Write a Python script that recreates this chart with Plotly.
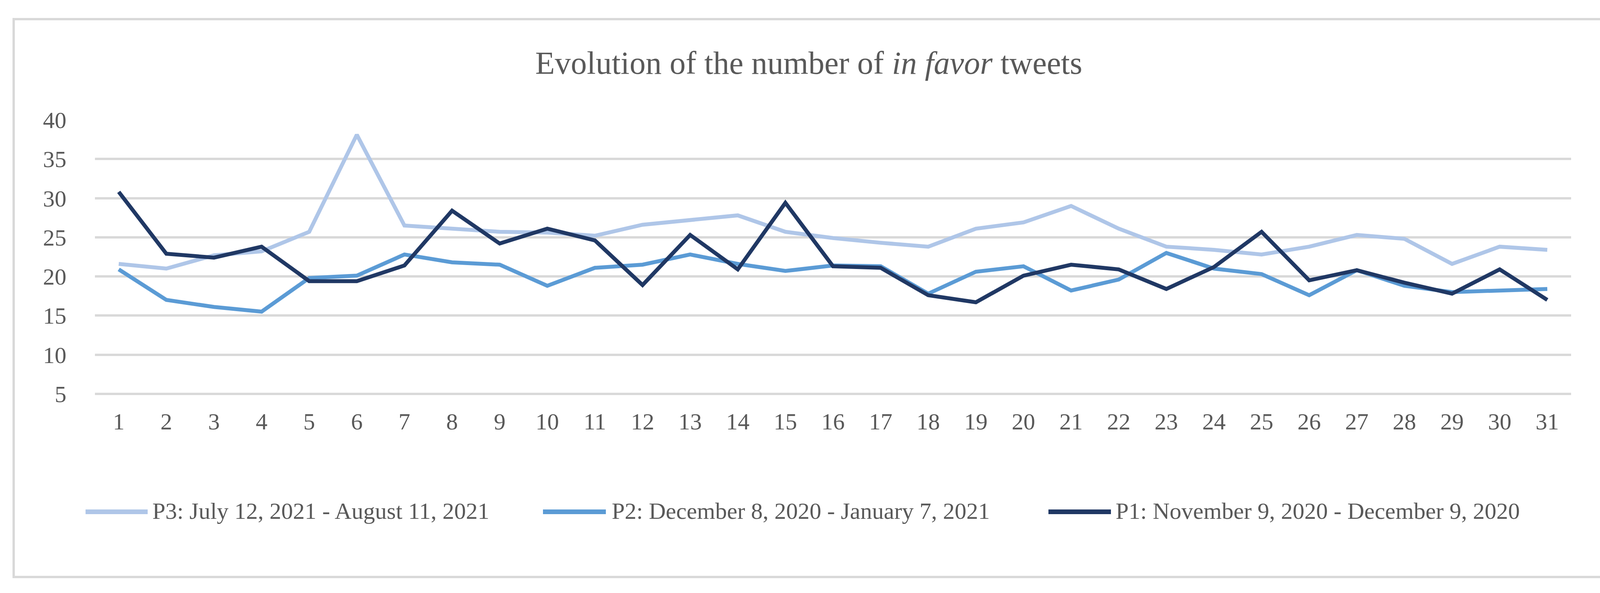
import plotly.graph_objects as go

# ---------------- data ----------------
days = list(range(1, 32))

p3_name = "P3: July 12, 2021 - August 11, 2021"
p3_values = [21.6, 21.0, 22.7, 23.2, 25.7, 38.1, 26.5, 26.1, 25.7, 25.6, 25.2,
             26.6, 27.2, 27.8, 25.7, 24.9, 24.3, 23.8, 26.1, 26.9, 29.0, 26.1,
             23.8, 23.4, 22.8, 23.8, 25.3, 24.8, 21.6, 23.8, 23.4]

p2_name = "P2: December 8, 2020 - January 7, 2021"
p2_values = [20.9, 17.0, 16.1, 15.5, 19.8, 20.1, 22.8, 21.8, 21.5, 18.8, 21.1,
             21.5, 22.8, 21.6, 20.7, 21.4, 21.3, 17.8, 20.6, 21.3, 18.2, 19.6,
             23.0, 21.0, 20.3, 17.6, 20.8, 18.8, 18.0, 18.2, 18.4]

p1_name = "P1: November 9, 2020 - December 9, 2020"
p1_values = [30.8, 22.9, 22.4, 23.8, 19.4, 19.4, 21.4, 28.4, 24.2, 26.1, 24.6,
             18.9, 25.3, 20.9, 29.4, 21.3, 21.1, 17.6, 16.7, 20.1, 21.5, 20.9,
             18.4, 21.2, 25.7, 19.5, 20.8, 19.2, 17.8, 20.9, 17.0]

y_ticks = [5, 10, 15, 20, 25, 30, 35, 40]
title_text = "Evolution of the number of <i>in favor</i> tweets"

# ---------------- styling ----------------
W, H = 4141, 1519
PLOT_L, PLOT_R, PLOT_T, PLOT_B = 243, 4022, 307, 1039
Y_MIN, Y_MAX = 3.5, 40
FONT = "Liberation Serif, Palatino Linotype, Book Antiqua, serif"
TEXT_COLOR = "#595959"
GRID_COLOR = "#D9D9D9"
colors = {"p3": "#AFC6E8", "p2": "#5B9BD5", "p1": "#203864"}


def px_x(px):
    return (px - PLOT_L) / (PLOT_R - PLOT_L)


def px_y(py):
    return (PLOT_B - py) / (PLOT_B - PLOT_T)


series = [
    (p3_name, p3_values, colors["p3"]),
    (p2_name, p2_values, colors["p2"]),
    (p1_name, p1_values, colors["p1"]),
]

fig = go.Figure()
for name, vals, col in series:
    fig.add_trace(go.Scatter(
        x=days, y=vals, name=name, mode="lines",
        line=dict(color=col, width=10),
        showlegend=False,
    ))

# custom legend (long line samples like the original)
legend_items = [
    (219, 378, 388),
    (1390, 1551, 1564),
    (2684, 2844, 2854),
]
legend_y = 1311
shapes = []
annotations = []
for (lx0, lx1, tx), (name, vals, col) in zip(legend_items, series):
    shapes.append(dict(type="line", xref="paper", yref="paper",
                       x0=px_x(lx0), x1=px_x(lx1),
                       y0=px_y(legend_y), y1=px_y(legend_y),
                       line=dict(color=col, width=12)))
    annotations.append(dict(xref="paper", yref="paper", x=px_x(tx),
                            y=px_y(legend_y - 2), xanchor="left", yanchor="middle",
                            text=name, showarrow=False,
                            font=dict(family=FONT, size=60, color=TEXT_COLOR)))

# outer frame
shapes.append(dict(type="rect", xref="paper", yref="paper",
                   x0=px_x(35), x1=px_x(4110), y0=px_y(49), y1=px_y(1478),
                   line=dict(color=GRID_COLOR, width=6), layer="below"))

fig.update_layout(
    width=W, height=H,
    margin=dict(l=PLOT_L, r=W - PLOT_R, t=PLOT_T, b=H - PLOT_B),
    paper_bgcolor="white", plot_bgcolor="white",
    title=dict(text=title_text, x=0.5, xanchor="center", xref="container",
               y=1 - 160 / H, yanchor="middle",
               font=dict(family=FONT, size=82, color=TEXT_COLOR)),
    shapes=shapes,
    annotations=annotations,
    showlegend=False,
)
fig.update_xaxes(range=[0.5, 31.5], tickvals=days, ticktext=[str(d) for d in days],
                 showgrid=False, zeroline=False, showline=False, ticks="",
                 tickfont=dict(family=FONT, size=60, color=TEXT_COLOR))
fig.update_yaxes(range=[Y_MIN, Y_MAX], tickvals=y_ticks, showgrid=True,
                 gridcolor=GRID_COLOR, gridwidth=6, zeroline=False, showline=False,
                 ticks="", ticklabelstandoff=72,
                 tickfont=dict(family=FONT, size=60, color=TEXT_COLOR))

fig.write_html("out.html", config={"displayModeBar": False},
               post_script="document.body.style.margin='0';document.body.style.overflow='hidden';")
